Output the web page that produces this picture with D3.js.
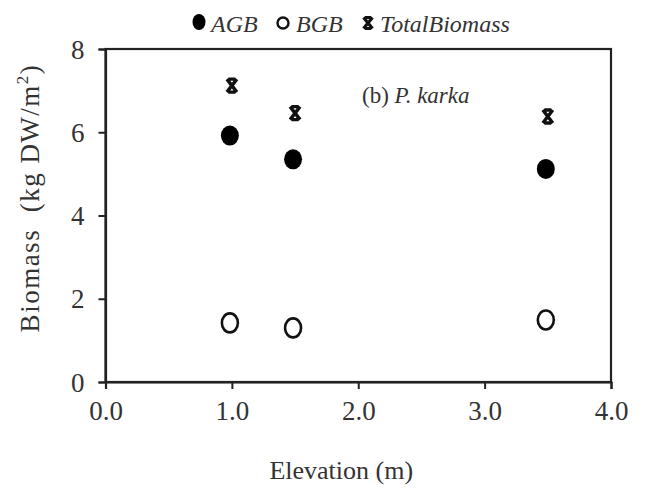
<!DOCTYPE html>
<html>
<head>
<meta charset="utf-8">
<script src="https://cdn.jsdelivr.net/npm/d3@7"></script>
<style>
  html, body { margin: 0; padding: 0; background: #fff; }
  svg { display: block; }
  text { font-family: "Liberation Serif", "Times New Roman", serif; fill: #333; }
</style>
</head>
<body>
<svg id="chart" width="647" height="488"></svg>
<script>
// Elevation of each sampling site (m)
const elevation = [1.0, 1.5, 3.5];
// Biomass per unit area (kg DW/m²)
const agb = [5.92, 5.35, 5.12];
const bgb = [1.42, 1.30, 1.49];
const totalBiomass = [7.12, 6.46, 6.38];

const xTicks = [0, 1, 2, 3, 4];
const yTicks = [0, 2, 4, 6, 8];
const legendLabels = ["AGB", "BGB", "TotalBiomass"];

const svg = d3.select("#chart");
const plotLeft = 105.5, plotRight = 611, plotTop = 49, plotBottom = 382;

const x = d3.scaleLinear().domain([0, 4]).range([plotLeft, plotRight]);
const y = d3.scaleLinear().domain([0, 8]).range([plotBottom, plotTop]);

const ink = "#222";

// frame (top and right edges)
svg.append("rect")
  .attr("x", plotLeft).attr("y", plotTop)
  .attr("width", plotRight - plotLeft).attr("height", plotBottom - plotTop)
  .attr("fill", "none").attr("stroke", ink).attr("stroke-width", 2.2);

// axes
const xAxis = svg.append("g")
  .attr("transform", `translate(0,${plotBottom})`)
  .call(d3.axisBottom(x).tickValues(xTicks).tickFormat(d3.format(".1f")).tickSizeOuter(0).tickSize(7).tickPadding(12));
const yAxis = svg.append("g")
  .attr("transform", `translate(${plotLeft},0)`)
  .call(d3.axisLeft(y).tickValues(yTicks).tickFormat(d3.format("d")).tickSizeOuter(0).tickSize(7).tickPadding(14));

[xAxis, yAxis].forEach(g => {
  g.select(".domain").attr("stroke", ink).attr("stroke-width", 2.2);
  g.selectAll(".tick line").attr("stroke", ink).attr("stroke-width", 2);
  g.selectAll(".tick text")
    .attr("font-size", 27)
    .attr("fill", "#333");
});
yAxis.selectAll(".tick text").attr("dy", "0.34em");

// axis titles
svg.append("text")
  .attr("x", (plotLeft + plotRight) / 2 - 17).attr("y", 479)
  .attr("text-anchor", "middle")
  .attr("font-size", 26)
  .text("Elevation (m)");

const yTitle = svg.append("text")
  .attr("transform", "translate(39,198) rotate(-90)")
  .attr("text-anchor", "middle")
  .attr("font-size", 27)
  .attr("letter-spacing", 1.5);
yTitle.append("tspan").text("Biomass\u00a0\u00a0(kg DW/m");
yTitle.append("tspan").attr("font-size", 17).attr("dy", -11).text("2");
yTitle.append("tspan").attr("dy", 11).text(")");

// panel label
const panel = svg.append("text")
  .attr("x", 362).attr("y", 103)
  .attr("font-size", 23);
panel.append("tspan").text("(b) ");
panel.append("tspan").attr("font-style", "italic").text("P. karka");

// marker shapes
function crossPath(w, h) {
  // bold cross with short caps top and bottom
  const cw = w * 0.7;
  return `M${-w},${-h}L${w},${h}M${w},${-h}L${-w},${h}` +
         `M${-cw},${-h}L${cw},${-h}M${-cw},${h}L${cw},${h}`;
}

const pts = elevation.map((e, i) => ({ e, agb: agb[i], bgb: bgb[i], tot: totalBiomass[i] }));

svg.append("g").selectAll("ellipse").data(pts).join("ellipse")
  .attr("cx", d => x(d.e) - 2).attr("cy", d => y(d.agb))
  .attr("rx", 9).attr("ry", 10)
  .attr("fill", "#000");

svg.append("g").selectAll("ellipse").data(pts).join("ellipse")
  .attr("cx", d => x(d.e) - 2).attr("cy", d => y(d.bgb))
  .attr("rx", 8).attr("ry", 9.5)
  .attr("fill", "none").attr("stroke", "#111").attr("stroke-width", 2.6);

svg.append("g").selectAll("path").data(pts).join("path")
  .attr("transform", d => `translate(${x(d.e)},${y(d.tot)})`)
  .attr("d", crossPath(5, 6.5))
  .attr("fill", "none").attr("stroke", "#111").attr("stroke-width", 3.4);

// legend
const legend = svg.append("g");
legend.append("ellipse").attr("cx", 199).attr("cy", 22).attr("rx", 6.5).attr("ry", 8).attr("fill", "#000");
legend.append("ellipse").attr("cx", 283).attr("cy", 23).attr("rx", 5.5).attr("ry", 5.5)
  .attr("fill", "none").attr("stroke", "#111").attr("stroke-width", 2.4);
legend.append("path").attr("transform", "translate(368,23)")
  .attr("d", crossPath(4.5, 5.5))
  .attr("fill", "none").attr("stroke", "#111").attr("stroke-width", 3.2);
const legendX = [211, 296, 380];
legend.selectAll("text").data(legendLabels).join("text")
  .attr("x", (d, i) => legendX[i]).attr("y", 32)
  .attr("font-size", 24).attr("font-style", "italic")
  .text(d => d);
</script>
</body>
</html>
